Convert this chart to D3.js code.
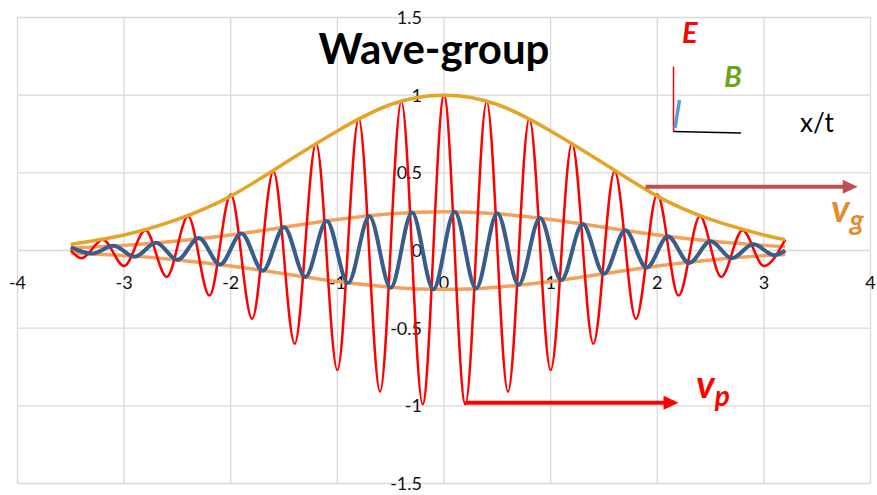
<!DOCTYPE html>
<html lang="en">
<head>
<meta charset="utf-8">
<title>Wave-group</title>
<script src="https://cdn.jsdelivr.net/npm/d3@7/dist/d3.min.js"></script>
<style>
  body { margin: 0; background: #fff; }
  svg text { font-family: Lato, "Open Sans", sans-serif; }
</style>
</head>
<body>
<div id="chart"></div>
<script>
// ---- data ----
var xTicks = [-4, -3, -2, -1, 0, 1, 2, 3, 4];
var yTicks = [-1.5, -1, -0.5, 0, 0.5, 1, 1.5];

// red wave: extrema of the carrier (every 0.2)
var redX = [-3.5, -3.4, -3.2, -3.0, -2.8, -2.6, -2.4, -2.2, -2.0, -1.8, -1.6, -1.4, -1.2, -1.0, -0.8, -0.6, -0.4, -0.2,
            0, 0.2, 0.4, 0.6, 0.8, 1.0, 1.2, 1.4, 1.6, 1.8, 2.0, 2.2, 2.4, 2.6, 2.8, 3.0, 3.2];
var redY = [0, -0.05, 0.07, -0.10, 0.13, -0.17, 0.22, -0.29, 0.36, -0.44, 0.51, -0.60, 0.69, -0.77, 0.85, -0.91, 0.96, -0.99,
            1.00, -0.99, 0.96, -0.91, 0.85, -0.77, 0.69, -0.60, 0.51, -0.44, 0.36, -0.29, 0.22, -0.17, 0.13, -0.10, 0.07];

// blue wave: extrema (every 0.2, shifted by 0.1)
var blueX = [-3.5, -3.3, -3.1, -2.9, -2.7, -2.5, -2.3, -2.1, -1.9, -1.7, -1.5, -1.3, -1.1, -0.9, -0.7, -0.5, -0.3, -0.1,
             0.1, 0.3, 0.5, 0.7, 0.9, 1.1, 1.3, 1.5, 1.7, 1.9, 2.1, 2.3, 2.5, 2.7, 2.9, 3.1, 3.2];
var blueY = [0.02, -0.02, 0.03, -0.04, 0.05, -0.06, 0.08, -0.09, 0.11, -0.13, 0.15, -0.17, 0.19, -0.21, 0.22, -0.24, 0.245, -0.25,
             0.25, -0.245, 0.24, -0.22, 0.21, -0.19, 0.17, -0.15, 0.13, -0.11, 0.09, -0.08, 0.06, -0.05, 0.04, -0.03, 0];

// envelopes
var envX   = [-3.5, -3, -2.5, -2, -1.5, -1, -0.5, 0, 0.5, 1, 1.5, 2, 2.5, 3, 3.2];
var goldY  = [0.04, 0.10, 0.20, 0.35, 0.56, 0.77, 0.94, 1.00, 0.94, 0.77, 0.56, 0.35, 0.20, 0.10, 0.07];
var lightY = [0.016, 0.033, 0.061, 0.10, 0.15, 0.20, 0.236, 0.25, 0.236, 0.20, 0.15, 0.10, 0.061, 0.033, 0.025];
var lightLowY = [-0.016, -0.033, -0.061, -0.10, -0.15, -0.20, -0.236, -0.25, -0.236, -0.20, -0.15, -0.10, -0.061, -0.033, -0.025];

// ---- svg ----
var w = 877, h = 495;
var svg = d3.select("#chart").append("svg")
            .attr("width", w)
            .attr("height", h);

var xScale = d3.scaleLinear().domain([-4, 4]).range([17.5, 870.5]);
var yScale = d3.scaleLinear().domain([-1.5, 1.5]).range([483.5, 17.5]);

// grid
svg.append("g").selectAll("line")
   .data(xTicks).enter().append("line")
   .attr("x1", function(d){ return xScale(d); })
   .attr("x2", function(d){ return xScale(d); })
   .attr("y1", yScale(1.5)).attr("y2", yScale(-1.5))
   .attr("stroke", "#d9d9d9").attr("stroke-width", 1.3);
svg.append("g").selectAll("line")
   .data(yTicks).enter().append("line")
   .attr("y1", function(d){ return yScale(d); })
   .attr("y2", function(d){ return yScale(d); })
   .attr("x1", xScale(-4)).attr("x2", xScale(4))
   .attr("stroke", "#d9d9d9").attr("stroke-width", 1.3);

// tick labels
svg.append("g").selectAll("text")
   .data(xTicks).enter().append("text")
   .attr("x", function(d){ return xScale(d); })
   .attr("y", yScale(0) + 38)
   .attr("text-anchor", "middle")
   .attr("font-size", 18)
   .attr("fill", "#111")
   .text(function(d){ return d; });
svg.append("g").selectAll("text")
   .data(yTicks).enter().append("text")
   .attr("x", xScale(0) - 22)
   .attr("y", function(d){ return yScale(d); })
   .attr("dy", "0.36em")
   .attr("text-anchor", "end")
   .attr("font-size", 18)
   .attr("fill", "#111")
   .text(function(d){ return d; });

// curves
function pts(xs, ys){ return xs.map(function(x, i){ return [x, ys[i]]; }); }
var waveLine = d3.line()
                 .x(function(d){ return xScale(d[0]); })
                 .y(function(d){ return yScale(d[1]); })
                 .curve(d3.curveMonotoneX);
var envLine = d3.line()
                .x(function(d){ return xScale(d[0]); })
                .y(function(d){ return yScale(d[1]); })
                .curve(d3.curveNatural);

svg.append("path").attr("d", envLine(pts(envX, lightY)))
   .attr("fill", "none").attr("stroke", "#f4a05c").attr("stroke-width", 3.5);
svg.append("path").attr("d", envLine(pts(envX, lightLowY)))
   .attr("fill", "none").attr("stroke", "#f4a05c").attr("stroke-width", 3.5);
svg.append("path").attr("d", waveLine(pts(redX, redY)))
   .attr("fill", "none").attr("stroke", "#ff0000").attr("stroke-width", 2.5);
svg.append("path").attr("d", envLine(pts(envX, goldY)))
   .attr("fill", "none").attr("stroke", "#e5a327").attr("stroke-width", 3.5);
svg.append("path").attr("d", waveLine(pts(blueX, blueY)))
   .attr("fill", "none").attr("stroke", "#385d8a").attr("stroke-width", 4)
   .attr("stroke-linejoin", "round");

// title
svg.append("text")
   .attr("x", 434).attr("y", 64)
   .attr("text-anchor", "middle")
   .attr("font-size", 42).attr("font-weight", "bold")
   .attr("fill", "#000")
   .text("Wave-group");

// arrows
function arrow(x0, x1, yv, color){
    var ya = yScale(yv), xa = xScale(x0), xb = xScale(x1);
    svg.append("line")
       .attr("x1", xa).attr("x2", xb - 12)
       .attr("y1", ya).attr("y2", ya)
       .attr("stroke", color).attr("stroke-width", 4);
    svg.append("path")
       .attr("d", "M" + (xb - 15) + "," + (ya - 7) + "L" + xb + "," + ya + "L" + (xb - 15) + "," + (ya + 7) + "Z")
       .attr("fill", color);
}
arrow(0.2, 2.2, -0.98, "#ff0000");
arrow(1.89, 3.88, 0.41, "#c0504d");

// v_p label
var vp = svg.append("text")
            .attr("x", 696).attr("y", 398)
            .attr("font-size", 38).attr("font-weight", "bold").attr("font-style", "italic")
            .attr("fill", "#ff0000");
vp.append("tspan").text("v");
vp.append("tspan").attr("font-size", 28).attr("dy", 8).text("p");

// v_g label
var vg = svg.append("text")
            .attr("x", 831).attr("y", 222)
            .attr("font-size", 38).attr("font-weight", "bold").attr("font-style", "italic")
            .attr("fill", "#e58a2e");
vg.append("tspan").text("v");
vg.append("tspan").attr("font-size", 28).attr("dy", 8).text("g");

// small E / B / x-t axes
svg.append("line")
   .attr("x1", 673.5).attr("y1", 66.5).attr("x2", 673.5).attr("y2", 131.5)
   .attr("stroke", "#ff0000").attr("stroke-width", 1.5);
svg.append("line")
   .attr("x1", 673.5).attr("y1", 131.5).attr("x2", 741).attr("y2", 133)
   .attr("stroke", "#000").attr("stroke-width", 1.5);
svg.append("line")
   .attr("x1", 679.5).attr("y1", 100).attr("x2", 675).attr("y2", 128)
   .attr("stroke", "#5b9bd5").attr("stroke-width", 3.5);
svg.append("text")
   .attr("x", 682).attr("y", 42.5)
   .attr("font-size", 29).attr("font-weight", "bold").attr("font-style", "italic")
   .attr("fill", "#ff0000").text("E");
svg.append("text")
   .attr("x", 724).attr("y", 87)
   .attr("font-size", 29).attr("font-weight", "bold").attr("font-style", "italic")
   .attr("fill", "#6fa31e").text("B");
svg.append("text")
   .attr("x", 800).attr("y", 132)
   .attr("font-size", 26)
   .attr("fill", "#000").text("x/t");
</script>
</body>
</html>
